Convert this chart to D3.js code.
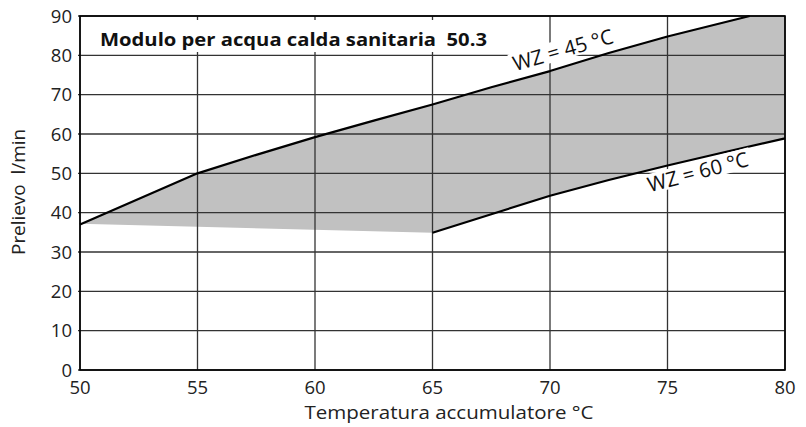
<!DOCTYPE html>
<html><head><meta charset="utf-8">
<script src="https://cdn.jsdelivr.net/npm/d3@7"></script>
<style>
body{margin:0;background:#fff;}
text{font-family:"Open Sans","Noto Sans",sans-serif;fill:#222;}
</style></head>
<body><svg id="c" width="806" height="427"></svg>
<script>
const xTicks = [50,55,60,65,70,75,80];
const yTicks = [0,10,20,30,40,50,60,70,80,90];
// WZ = 45 °C curve (temperature, l/min)
const wz45T = [50,55,57.5,60,62.5,65,67.5,70,72.5,75,78.5];
const wz45V = [37,50,54.7,59.2,63.4,67.5,71.9,76,80.6,84.8,90];
// WZ = 60 °C curve
const wz60T = [65,67.5,70,72.5,75,77.5,80];
const wz60V = [34.9,39.6,44.3,48.3,52,55.5,58.9];
// lower boundary of shaded area from 50 to 65
const lowT = [50,65];
const lowV = [37.2,34.9];
const title = "Modulo per acqua calda sanitaria  50.3";
const xTitle = "Temperatura accumulatore °C";
const yTitle = "Prelievo  l/min";
const label45 = "WZ = 45 °C";
const label60 = "WZ = 60 °C";

const svg = d3.select("#c");
const x = d3.scaleLinear().domain([50,80]).range([80,785]);
const y = d3.scaleLinear().domain([0,90]).range([370,16]);

const p45 = wz45T.map((t,i)=>[t,wz45V[i]]);
const p60 = wz60T.map((t,i)=>[t,wz60V[i]]);
const pLow = lowT.map((t,i)=>[t,lowV[i]]);

const line = d3.line().x(d=>x(d[0])).y(d=>y(d[1]));
// shaded area polygon
const poly = [...p45, [80,90], ...p60.slice().reverse(), ...pLow.slice().reverse()];
svg.append("path").attr("d", line(poly)).attr("fill","#c1c1c1").attr("stroke","none");

// grid
const g = svg.append("g");
g.selectAll(".vg").data(xTicks).join("line")
  .attr("x1",d=>x(d)).attr("x2",d=>x(d)).attr("y1",y(0)).attr("y2",y(90))
  .attr("stroke","#333").attr("stroke-width",1.3);
g.selectAll(".hg").data(yTicks).join("line")
  .attr("x1",x(50)-2).attr("x2",x(80)).attr("y1",d=>y(d)).attr("y2",d=>y(d))
  .attr("stroke","#333").attr("stroke-width",1.3);

// curves
svg.append("path").attr("d", line(p45)).attr("fill","none").attr("stroke","#000").attr("stroke-width",2.2).attr("stroke-linejoin","round");
svg.append("path").attr("d", line(p60)).attr("fill","none").attr("stroke","#000").attr("stroke-width",2.2).attr("stroke-linejoin","round");

// title box
svg.append("rect").attr("x",x(50)+1.5).attr("y",y(90)+4).attr("width",420).attr("height",32).attr("fill","#fff");
svg.append("text").attr("x",100).attr("y",46).attr("font-size",18).attr("font-weight","bold")
  .attr("xml:space","preserve").style("white-space","pre")
  .attr("textLength",387).attr("lengthAdjust","spacingAndGlyphs")
  .style("fill","#111").text(title);

// rotated labels with white background
function rlabel(txt,cx,cy,ang){
  const gg = svg.append("g").attr("transform",`translate(${cx},${cy}) rotate(${ang})`);
  const r = gg.append("rect").attr("fill","#fff");
  const t = gg.append("text").attr("text-anchor","middle").attr("dy","0.35em")
    .attr("font-size",20.5).style("fill","#111").text(txt);
  const b = t.node().getBBox();
  r.attr("x",b.x-3).attr("y",b.y+4).attr("width",b.width+6).attr("height",b.height-8);
}
rlabel(label45, 563, 50, -16);
rlabel(label60, 698, 172, -15);

// axes labels
svg.selectAll(".xt").data(xTicks).join("text")
  .attr("x",d=>x(d)).attr("y",394).attr("text-anchor","middle").attr("font-size",18.5).text(d=>d);
svg.selectAll(".yt").data(yTicks).join("text")
  .attr("x",72).attr("y",d=>y(d)+6.5).attr("text-anchor","end").attr("font-size",18.5).text(d=>d);
svg.append("text").attr("x",449).attr("y",419).attr("text-anchor","middle").attr("font-size",18)
  .attr("textLength",289).attr("lengthAdjust","spacingAndGlyphs").text(xTitle);
svg.append("text").attr("transform","translate(25,192) rotate(-90)").attr("text-anchor","middle").attr("font-size",18)
  .attr("xml:space","preserve").style("white-space","pre")
  .attr("textLength",126).attr("lengthAdjust","spacingAndGlyphs").text(yTitle);

// frame
svg.append("rect").attr("x",x(50)).attr("y",y(90)).attr("width",x(80)-x(50)).attr("height",y(0)-y(90))
  .attr("fill","none").attr("stroke","#000").attr("stroke-width",1.6);
</script></body></html>
